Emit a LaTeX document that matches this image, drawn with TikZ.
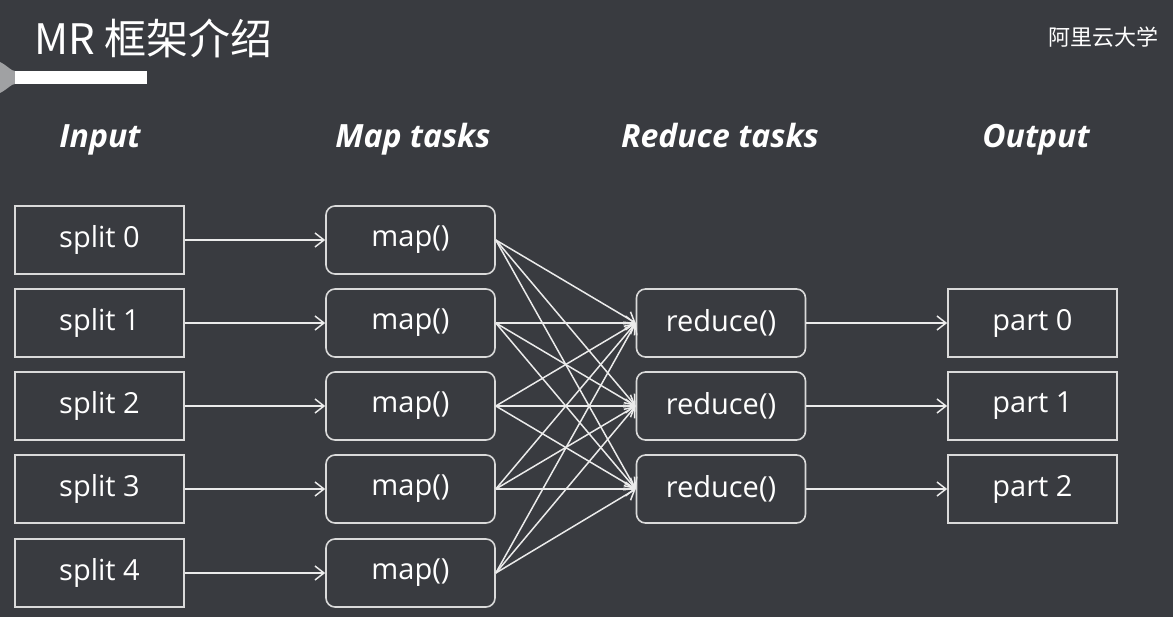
\documentclass[tikz,border=0pt]{standalone}
\usepackage{fontspec}
\setmainfont{Open Sans}
\newfontfamily\cjk{Noto Sans CJK SC}
\usetikzlibrary{arrows.meta}
\definecolor{slidebg}{RGB}{57,59,64}
\definecolor{boxline}{RGB}{218,218,218}
\definecolor{bartip}{RGB}{160,161,163}

\begin{document}
\begin{tikzpicture}[x=1pt,y=-1pt,
    box/.style={draw=boxline,line width=1.6pt,minimum width=169pt,minimum height=68pt,
      inner sep=0pt,text=white,font=\fontsize{29}{33}\selectfont},
    roundbox/.style={box,rounded corners=9pt},
    head/.style={anchor=base,text=white,font=\fontsize{32}{36}\selectfont\bfseries\itshape},
    flow/.style={draw=white!92!black,line width=1.5pt,-{Straight Barb[length=9pt,width=14pt]}}]
      \fill[slidebg] (0,0) rectangle (1173,617);
      \fill[bartip] (0,62) .. controls (8,66) and (11,71) .. (15,71) -- (15,84)
        .. controls (11,84) and (8,89) .. (0,93) -- cycle;
      \fill[white] (15,71) rectangle (147,84);
      \node[anchor=west,inner sep=0pt,text=white,font=\cjk\fontsize{42}{46}\selectfont] (title) at (34,38) {MR 框架介绍};
      \node[anchor=east,inner sep=0pt,text=white,font=\cjk\fontsize{22}{26}\selectfont] (brand) at (1159,37) {阿里云大学};

      \node[head] (hin) at (100,148) {Input};
      \node[head] (hmap) at (413,148) {Map tasks};
      \node[head] (hred) at (720,148) {Reduce tasks};
      \node[head] (hout) at (1036,148) {Output};

      \node[box] (s0) at (99.5,240) {split 0};
      \node[box] (s1) at (99.5,323) {split 1};
      \node[box] (s2) at (99.5,406) {split 2};
      \node[box] (s3) at (99.5,489) {split 3};
      \node[box] (s4) at (99.5,573) {split 4};

      \node[roundbox] (m0) at (410.5,240) {map()};
      \node[roundbox] (m1) at (410.5,323) {map()};
      \node[roundbox] (m2) at (410.5,406) {map()};
      \node[roundbox] (m3) at (410.5,489) {map()};
      \node[roundbox] (m4) at (410.5,573) {map()};

      \node[roundbox] (r0) at (721,323) {reduce()};
      \node[roundbox] (r1) at (721,406) {reduce()};
      \node[roundbox] (r2) at (721,489) {reduce()};

      \node[box] (p0) at (1032.5,323) {part 0};
      \node[box] (p1) at (1032.5,406) {part 1};
      \node[box] (p2) at (1032.5,489) {part 2};

      \draw[flow] (s0) -- (m0);
      \draw[flow] (s1) -- (m1);
      \draw[flow] (s2) -- (m2);
      \draw[flow] (s3) -- (m3);
      \draw[flow] (s4) -- (m4);

      \draw[flow] (m0.east) -- (r0.west);
      \draw[flow] (m0.east) -- (r1.west);
      \draw[flow] (m0.east) -- (r2.west);
      \draw[flow] (m1.east) -- (r0.west);
      \draw[flow] (m1.east) -- (r1.west);
      \draw[flow] (m1.east) -- (r2.west);
      \draw[flow] (m2.east) -- (r0.west);
      \draw[flow] (m2.east) -- (r1.west);
      \draw[flow] (m2.east) -- (r2.west);
      \draw[flow] (m3.east) -- (r0.west);
      \draw[flow] (m3.east) -- (r1.west);
      \draw[flow] (m3.east) -- (r2.west);
      \draw[flow] (m4.east) -- (r0.west);
      \draw[flow] (m4.east) -- (r1.west);
      \draw[flow] (m4.east) -- (r2.west);

      \draw[flow] (r0) -- (p0);
      \draw[flow] (r1) -- (p1);
      \draw[flow] (r2) -- (p2);
    \end{tikzpicture}
\end{document}
